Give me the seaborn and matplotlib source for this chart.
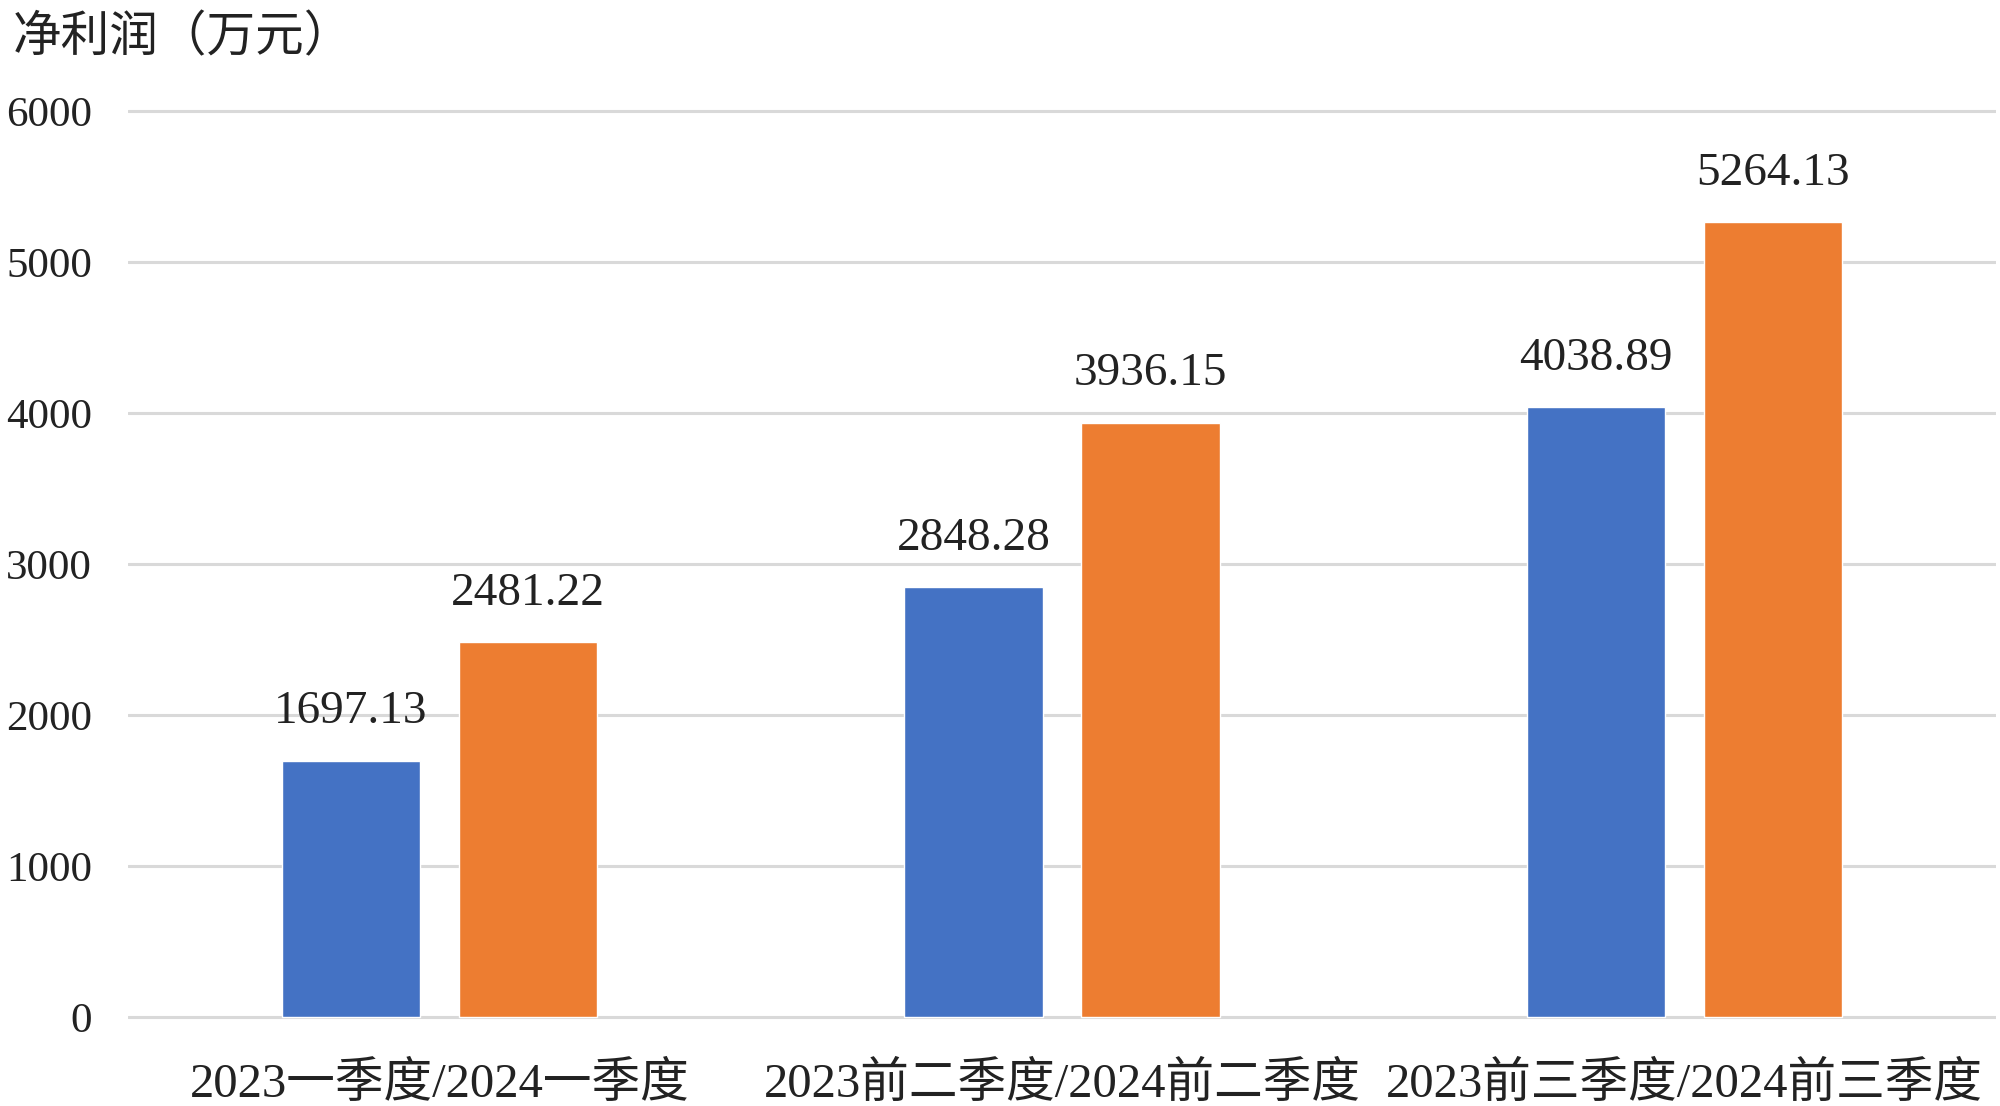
import matplotlib
matplotlib.use("Agg")
import matplotlib.pyplot as plt
import seaborn as sns
import pandas as pd

categories = ["2023一季度/2024一季度", "2023前二季度/2024前二季度", "2023前三季度/2024前三季度"]
series_names = ["2023", "2024"]
values_2023 = [1697.13, 2848.28, 4038.89]
values_2024 = [2481.22, 3936.15, 5264.13]
y_ticks = [0, 1000, 2000, 3000, 4000, 5000, 6000]
title_text = "净利润（万元）"

colors = ["#4472C4", "#ED7D31"]
FONT = ["Liberation Serif", "Noto Sans CJK SC", "DejaVu Sans"]

df = pd.DataFrame({
    "category": categories * 2,
    "series": [series_names[0]] * 3 + [series_names[1]] * 3,
    "value": values_2023 + values_2024,
})

sns.set_theme(style="white")
plt.rcParams["font.family"] = FONT

fig = plt.figure(figsize=(20, 11.06), dpi=100)
ax = fig.add_axes([0.064, 0.0764, 0.934, 0.8273])

sns.barplot(data=df, x="category", y="value", hue="series", order=categories,
            hue_order=series_names, palette=colors, width=0.568, gap=0.218,
            errorbar=None, legend=False, ax=ax, saturation=1, zorder=3)

ax.set_xlim(-0.5, 2.5)
ax.set_ylim(-30, 6030)
ax.set_yticks(y_ticks)
ax.set_yticklabels([str(t) for t in y_ticks])
ax.yaxis.grid(True, color="#D9D9D9", linewidth=2.2, zorder=0)
ax.set_axisbelow(True)
for s in ax.spines.values():
    s.set_visible(False)
ax.set_xlabel("")
ax.set_ylabel("")
ax.tick_params(axis="y", length=0, pad=26, labelsize=31, labelcolor="#222222")
ax.tick_params(axis="x", length=0, pad=29, labelsize=35, labelcolor="#222222")

for p in ax.patches:
    h = p.get_height()
    if h <= 0:
        continue
    ax.annotate(f"{h:.2f}", xy=(p.get_x() + p.get_width() / 2, h),
                xytext=(0, 35), textcoords="offset points",
                ha="center", va="center", fontsize=34, color="#222222")

fig.text(0.0065, 1 - 38 / 1106, title_text, ha="left", va="center",
         fontsize=35, color="#222222")

fig.savefig("out.png", dpi=100, facecolor="white")
